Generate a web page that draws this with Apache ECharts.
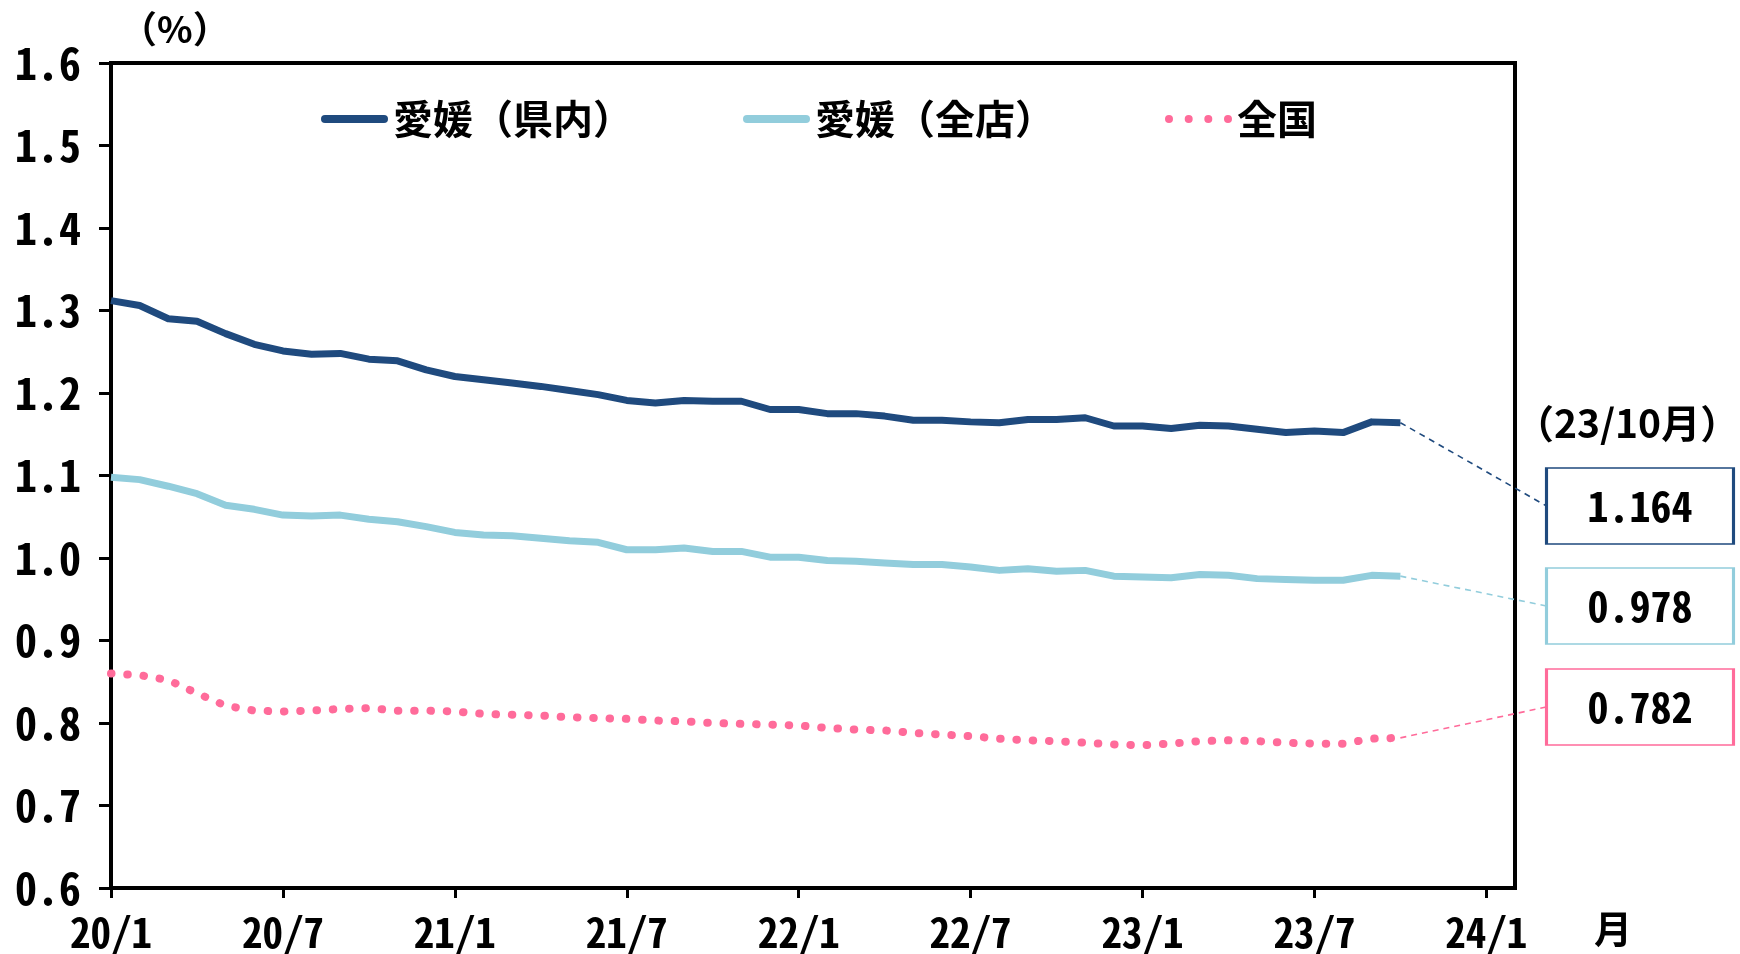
<!DOCTYPE html>
<html>
<head>
<meta charset="utf-8">
<script src="https://cdn.jsdelivr.net/npm/echarts@6/dist/echarts.min.js"></script>
<style>
html,body{margin:0;padding:0;background:#fff;}
#c{width:1740px;height:954px;}
</style>
</head>
<body>
<div id="c"></div>
<script>
// ---- data ----
const months = [
  '20/1','20/2','20/3','20/4','20/5','20/6','20/7','20/8','20/9','20/10','20/11','20/12',
  '21/1','21/2','21/3','21/4','21/5','21/6','21/7','21/8','21/9','21/10','21/11','21/12',
  '22/1','22/2','22/3','22/4','22/5','22/6','22/7','22/8','22/9','22/10','22/11','22/12',
  '23/1','23/2','23/3','23/4','23/5','23/6','23/7','23/8','23/9','23/10','23/11','23/12',
  '24/1','24/2'
];
const ehimeKennai = [
  1.312,1.306,1.290,1.287,1.272,1.259,1.251,1.247,1.248,1.241,1.239,1.228,
  1.220,1.216,1.212,1.208,1.203,1.198,1.191,1.188,1.191,1.190,1.190,1.180,
  1.180,1.175,1.175,1.172,1.167,1.167,1.165,1.164,1.168,1.168,1.170,1.160,
  1.160,1.157,1.161,1.160,1.156,1.152,1.154,1.152,1.165,1.164
];
const ehimeZenten = [
  1.098,1.095,1.087,1.078,1.064,1.059,1.052,1.051,1.052,1.047,1.044,1.038,
  1.031,1.028,1.027,1.024,1.021,1.019,1.010,1.010,1.012,1.008,1.008,1.001,
  1.001,0.997,0.996,0.994,0.992,0.992,0.989,0.985,0.987,0.984,0.985,0.978,
  0.977,0.976,0.980,0.979,0.975,0.974,0.973,0.973,0.979,0.978
];
const zenkoku = [
  0.860,0.858,0.852,0.836,0.821,0.815,0.814,0.815,0.817,0.818,0.815,0.815,
  0.814,0.811,0.810,0.809,0.807,0.806,0.805,0.803,0.802,0.800,0.799,0.798,
  0.797,0.794,0.792,0.791,0.788,0.786,0.784,0.781,0.779,0.778,0.776,0.774,
  0.773,0.775,0.778,0.779,0.778,0.776,0.775,0.775,0.781,0.782
];
const seriesNames = ['愛媛（県内）','愛媛（全店）','全国'];
const latestLabel = '（23/10月）';
const yTicks = {min:0.6, max:1.6, step:0.1};

// ---- styling ----
const NUM_FONT = "'Noto Sans Mono CJK JP','DejaVu Sans Mono',monospace";
const JP_FONT = "'Noto Sans CJK JP','Noto Sans',sans-serif";
const colors = ['#1F4A7E','#92CDDC','#FF6B9A'];
const boxCenters = [506, 606, 707];
const boxX = 1640, boxW = 187, boxH = 76;

const ICON_SOLID = 'path://M4,0 L63,0 A4,4 0 0 1 63,8 L4,8 A4,4 0 0 1 4,0 Z';
const ICON_DOTS = 'path://M0,4 a4,4 0 1,0 8,0 a4,4 0 1,0 -8,0 Z M19.7,4 a4,4 0 1,0 8,0 a4,4 0 1,0 -8,0 Z M39.3,4 a4,4 0 1,0 8,0 a4,4 0 1,0 -8,0 Z M59,4 a4,4 0 1,0 8,0 a4,4 0 1,0 -8,0 Z';

function lastOf(a){ return a[a.length-1]; }
const allData = [ehimeKennai, ehimeZenten, zenkoku];

const chart = echarts.init(document.getElementById('c'), null, {renderer:'canvas'});

const series = allData.map((d, i) => {
  const lastIdx = d.length - 1;
  return {
    name: seriesNames[i],
    type: 'line',
    data: d,
    symbol: 'none',
    smooth: false,
    z: 5 - i,
    lineStyle: i === 2
      ? {color: colors[i], width: 8, type: [0.5, 15.8], cap: 'round'}
      : {color: colors[i], width: 7, cap: 'butt', join: 'round'},
    itemStyle: {color: colors[i]},
    markLine: {
      silent: true,
      symbol: 'none',
      animation: false,
      label: {show: false},
      lineStyle: {color: colors[i], width: 1.6, type: [6, 5]},
      data: [[
        {coord: [lastIdx, lastOf(d)]},
        {x: boxX - boxW/2, y: boxCenters[i]}
      ]]
    },
    markPoint: {
      silent: true,
      animation: false,
      symbol: 'rect',
      symbolSize: [boxW, boxH],
      itemStyle: {color: '#fff', borderColor: colors[i], borderWidth: 2},
      label: {
        show: true, position: 'inside', color: '#000',
        fontFamily: NUM_FONT, fontSize: 42, fontWeight: 'bold',
        formatter: () => lastOf(d).toFixed(3)
      },
      data: [{x: boxX, y: boxCenters[i], value: lastOf(d)}]
    }
  };
});

const option = {
  animation: false,
  backgroundColor: '#fff',
  grid: {left: 111, right: 225, top: 63, bottom: 66, show: true,
         borderColor: '#000', borderWidth: 4, backgroundColor: 'transparent'},
  legend: {
    data: seriesNames.map((n, i) => ({
      name: n,
      icon: i === 2 ? ICON_DOTS : ICON_SOLID,
      itemStyle: {color: colors[i], borderWidth: 0}
    })),
    left: 316, top: 94,
    itemWidth: 67, itemHeight: 8, itemGap: 110,
    textStyle: {fontFamily: JP_FONT, fontSize: 40, fontWeight: 'bold', color: '#000'}
  },
  xAxis: {
    type: 'category',
    data: months,
    boundaryGap: false,
    axisLine: {lineStyle: {color: '#000', width: 4}},
    axisTick: {show: true, inside: false, length: 10, lineStyle: {color:'#000', width: 3},
               interval: (i) => i % 6 === 0},
    axisLabel: {interval: (i) => i % 6 === 0, margin: 24, color: '#000',
                fontFamily: NUM_FONT, fontSize: 41, fontWeight: 'bold'},
    splitLine: {show: false}
  },
  yAxis: {
    type: 'value',
    min: yTicks.min, max: yTicks.max, interval: yTicks.step,
    axisLine: {show: true, lineStyle: {color: '#000', width: 4}},
    axisTick: {show: true, inside: false, length: 12, lineStyle: {color:'#000', width: 3}},
    axisLabel: {margin: 30, color: '#000', fontFamily: NUM_FONT, fontSize: 44, fontWeight: 'bold',
                formatter: (v) => v.toFixed(1)},
    splitLine: {show: false}
  },
  graphic: [
    {type: 'text', left: 120, top: 10, style: {text: '（%）', fontFamily: JP_FONT, fontSize: 37, fontWeight: 'bold', fill: '#000'}},
    {type: 'text', left: 1515, top: 404, style: {text: latestLabel, fontFamily: JP_FONT, fontSize: 39, fontWeight: 'bold', fill: '#000'}},
    {type: 'text', left: 1594, top: 910, style: {text: '月', fontFamily: JP_FONT, fontSize: 38, fontWeight: 'bold', fill: '#000'}}
  ],
  series: series
};
chart.setOption(option);
</script>
</body>
</html>
